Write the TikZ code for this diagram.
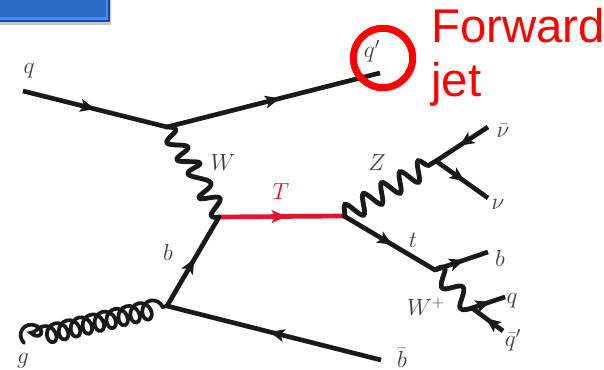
\documentclass[tikz,border=0pt]{standalone}
\usepackage{fix-cm}
\usepackage{fontspec}
\newfontfamily\labelfont{Liberation Sans}
\usetikzlibrary{arrows.meta,decorations.markings,decorations.pathmorphing}
\definecolor{ink}{HTML}{1A1A1A}
\definecolor{labelgray}{HTML}{3C3C3C}
\definecolor{topred}{HTML}{E2152B}
\tikzset{
  fermion/.style={draw=ink,line width=3.5pt,line cap=butt},
  topline/.style={draw=topred,line width=3.5pt},
  boson/.style={draw=ink,line width=3.6pt,line join=round,line cap=round},
  wave/.style={draw=ink,line width=3.6pt,line cap=round,decorate,
    decoration={snake,amplitude=7pt,segment length=16pt,pre length=0pt,post length=0pt}},
  gluon/.style={draw=ink,line width=2.8pt,line cap=round,decorate,
    decoration={coil,aspect=0.82,amplitude=6.8pt,segment length=9.2pt,pre length=0pt,post length=0pt}},
  midarrow/.style={postaction={decorate,decoration={markings,
    mark=at position #1 with {\arrow{Stealth[length=11pt,width=9.5pt,inset=2.5pt]}}}}},
  lab/.style={text=labelgray,inner sep=0pt,font=\fontsize{17.5}{19}\selectfont},
  title/.style={text=red,inner sep=0pt,anchor=base west,font=\labelfont\fontsize{35.5}{37}\selectfont},
}
\begin{document}
\begin{tikzpicture}[x=0.75pt,y=-0.75pt]
\useasboundingbox (0,0) rectangle (604,370);
% blue box
\fill[gray!45] (0,0) rectangle (111,25);
\fill[fill={rgb,255:red,31;green,63;blue,192}] (0,0) rectangle (110,22.5);
\fill[fill={rgb,255:red,74;green,144;blue,216}] (0,0) rectangle (108,20);
\fill[fill={rgb,255:red,42;green,108;blue,200}] (0,0) rectangle (106,17.5);
% vertices and ends
\coordinate (qin) at (23,91);
\coordinate (A) at (167,127);
\coordinate (qout) at (380,73);
\coordinate (B) at (219,217);
\coordinate (C) at (344,216);
\coordinate (V) at (167,306);
\coordinate (gend) at (24,343);
\coordinate (bbar) at (381,360);
\coordinate (D) at (436,161);
\coordinate (nub) at (488,127);
\coordinate (nu) at (488,198);
\coordinate (E) at (435,270);
\coordinate (bout) at (488,252);
\coordinate (F) at (472,308);
\coordinate (qr) at (505,297);
\coordinate (qpr) at (503,331);
% fermions
\path[fermion,midarrow=0.5] (qin) -- (A);
\path[fermion,midarrow=0.53] (A) -- (qout);
\path[fermion,midarrow=0.53] (V) -- (B);
\path[fermion,midarrow=0.52] (bbar) -- (V);
\path[topline,midarrow=0.54] (B) -- (C);
\path[fermion,midarrow=0.53] (C) -- (E);
\path[fermion,midarrow=0.55] (E) -- (bout);
\path[fermion,midarrow=0.55] (nub) -- (D);
\path[fermion,midarrow=0.55] (D) -- (nu);
\path[fermion,midarrow=0.55] (F) -- (qr);
\path[fermion,midarrow=0.55] (qpr) -- (F);
% bosons
\draw[boson] plot[smooth,tension=0.7] coordinates {(A) (176,130) (167,143) (188,147) (177,160) (200,163) (188,174) (211,183) (199,198) (220,198) (211,215) (B)};
\path[wave] (C) -- (D);
\draw[boson] plot[smooth,tension=0.7] coordinates {(E) (445,268) (442,288) (463,287) (460,308) (F)};
\path[gluon] (gend) .. controls (26,340) and (30,338) .. (V);
% encircled jet
\node[draw=red,line width=5.3pt,circle,minimum size=44.5pt,inner sep=0pt] (ring) at (383,58) {};
% labels
\node[lab] (lq) at (29,71) {$q$};
\node[lab] (lqp) at (372,51) {$q'$};
\node[lab] (lW) at (223,163) {$W$};
\node[lab] (lZ) at (377,163) {$Z$};
\node[lab] (lnub) at (503,131) {$\bar\nu$};
\node[lab] (lnu) at (498,204) {$\nu$};
\node[lab,text=topred] (lT) at (281,192) {$T$};
\node[lab] (lt) at (413,240) {$t$};
\node[lab] (lb) at (168,252) {$b$};
\node[lab] (lbr) at (500,258) {$b$};
\node[lab] (lqr) at (512,301) {$q$};
\node[lab] (lqbp) at (513,340) {$\bar q'$};
\node[lab] (lWp) at (426,307) {$W^{+}$};
\node[lab] (lbb) at (402,358) {$\bar b$};
\node[lab] (lg) at (23,361) {$g$};
\node[title] (fw) at (431,43) {Forward};
\node[title] (jt) at (431,97) {jet};
\end{tikzpicture}
\end{document}
